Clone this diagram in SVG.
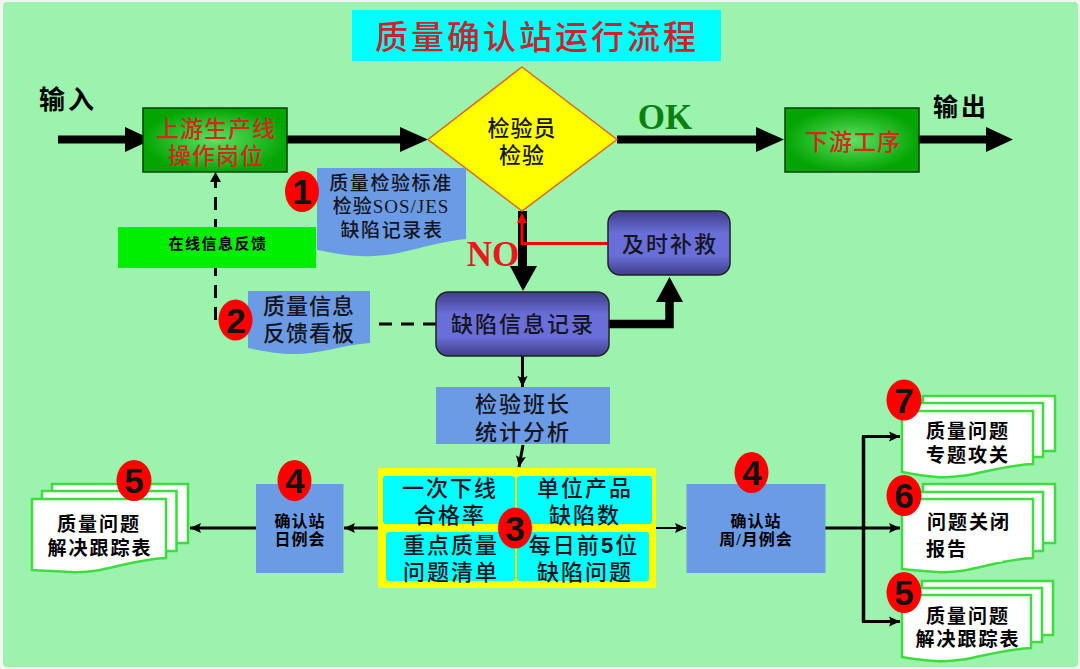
<svg xmlns="http://www.w3.org/2000/svg" width="1080" height="669" viewBox="0 0 1080 669">
<style>
text{font-family:"Liberation Serif","Noto Sans CJK SC",serif;text-anchor:middle;fill:#15151f;font-weight:500}
.m{font-size:22px;letter-spacing:2px}
.d{font-size:19px;letter-spacing:2px;font-weight:700;fill:#000}
.i{font-size:16px;letter-spacing:1px;font-weight:700;fill:#000}
.r{fill:#cf2a1c;font-size:23px;letter-spacing:1px}
.bl{fill:#6b9be4}
.cy{fill:#00ffff}
.doc{fill:#fff;stroke:#3fdc3f;stroke-width:2.5}
.mark{fill:#ff0000}
.num{font-family:"Liberation Sans",sans-serif;font-weight:700;font-size:35px;fill:#111}
.ln{fill:none;stroke:#000}
.thick{fill:none;stroke:#000;stroke-width:8}
.dash{fill:none;stroke:#000;stroke-width:3;stroke-dasharray:13 9}
.latin{font-family:"Liberation Serif",serif;font-weight:700}
</style>
<defs>
<radialGradient id="g"><stop offset="0" stop-color="#62e062"/><stop offset="1" stop-color="#03a503"/></radialGradient>
<linearGradient id="p" x1="0" y1="0" x2="0" y2="1"><stop offset="0" stop-color="#3e3e88"/><stop offset=".35" stop-color="#6a6ed8"/><stop offset=".7" stop-color="#6a6ed8"/><stop offset="1" stop-color="#3e3e88"/></linearGradient>
<marker id="a" markerUnits="userSpaceOnUse" markerWidth="14" markerHeight="14" refX="11" refY="6" orient="auto"><path d="M0 1L11 6L0 11L2 6Z" fill="#000"/></marker>
</defs>
<rect x="0" y="0" width="1080" height="669" fill="#f4f6f4"/>
<rect x="3" y="2" width="1075" height="665" rx="4" fill="#9bf3ad"/>
<g id="title"><rect x="352" y="10" width="369" height="51" class="cy"/><text x="537" y="49" font-size="33" letter-spacing="3" style="fill:#c9242c">质量确认站运行流程</text></g>
<g id="connectors">
<path d="M58 139.500H130" class="thick"/><path d="M125 127L152 139.500L125 152Z"/>
<path d="M287 139.500H405" class="thick"/><path d="M400 127L428 139.500L400 152Z"/>
<path d="M617 139.500H760" class="thick"/><path d="M756 127L784 139.500L756 152Z"/>
<path d="M919 139.500H990" class="thick"/><path d="M986 127L1013 139.500L986 152Z"/>
<path d="M522.500 211V270" class="ln" stroke-width="9"/><path d="M510 266H537L523 291Z"/>
<path d="M609 324H669.500V298" class="ln" stroke-width="8.500"/><path d="M656 302L669.500 277L683 302Z"/>
<path d="M608 243.500H522V218" fill="none" stroke="#ff0000" stroke-width="3"/><path d="M517 223L522 213L527 223Z" fill="#ff0000"/>
<path d="M436 324H372" class="dash"/>
<path d="M215.500 320V180" class="dash"/><path d="M210 182L215.500 172L221 182Z"/>
<path d="M522.500 356V387" class="ln" stroke-width="3" marker-end="url(#a)"/>
<path d="M523 445L519 467" class="ln" stroke-width="3" marker-end="url(#a)"/>
<path d="M379 528H344" class="ln" stroke-width="3" marker-end="url(#a)"/>
<path d="M256 528H190" class="ln" stroke-width="3" marker-end="url(#a)"/>
<path d="M656 528H686" class="ln" stroke-width="2" marker-end="url(#a)"/>
<path d="M825 528H900" class="ln" stroke-width="3" marker-end="url(#a)"/>
<path d="M863.500 436.500V621.500" class="ln" stroke-width="3.500"/>
<path d="M862 436.500H900" class="ln" stroke-width="3" marker-end="url(#a)"/>
<path d="M862 621.500H900" class="ln" stroke-width="3" marker-end="url(#a)"/>
</g>
<g id="upstream"><rect x="143" y="108" width="144" height="64" fill="url(#g)" stroke="#0b3d0b" stroke-width="1.500"/><text x="216" y="137" class="r">上游生产线</text><text x="216" y="164" class="r">操作岗位</text></g>
<g id="inspect"><path d="M522 67L617 139.500L522 211L428 139.500Z" fill="#ffff00" stroke="#e0661a" stroke-width="1.500"/><text x="522" y="136" font-size="22" letter-spacing="1">检验员</text><text x="522" y="163" font-size="22" letter-spacing="1">检验</text></g>
<g id="downstream"><rect x="785" y="108" width="134" height="64" fill="url(#g)" stroke="#0b3d0b" stroke-width="1.500"/><text x="853" y="150" class="r">下游工序</text></g>
<g id="labels"><text x="68" y="109" font-size="26" letter-spacing="3" style="font-weight:700;fill:#000">输入</text><text x="961" y="116" font-size="25" letter-spacing="3" style="font-weight:700;fill:#000">输出</text><text x="665" y="129" font-size="35" class="latin" style="fill:#0a7f12">OK</text></g>
<g id="doc1"><path d="M317 168H466V239C425 243 400 258 360 256C340 255 330 252 317 250Z" class="bl"/><text x="391" y="190" font-size="19" letter-spacing="1.600">质量检验标准</text><text x="391" y="213" font-size="19" letter-spacing="1">检验SOS/JES</text><text x="392" y="237" font-size="19" letter-spacing="1.600">缺陷记录表</text></g>
<g id="feedback"><rect x="118" y="227" width="198" height="41" fill="#00ee00"/><text x="218" y="249" font-size="15" letter-spacing="1.500" style="font-weight:700;fill:#000">在线信息反馈</text></g>
<g id="doc2"><path d="M248 291H370V343C340 345 320 355 290 354C270 353 258 350 248 348Z" class="bl"/><text x="309" y="314" class="m" style="letter-spacing:1px">质量信息</text><text x="309" y="341" class="m" style="letter-spacing:1px">反馈看板</text></g>
<g id="record"><rect x="436" y="292" width="173" height="64" rx="12" fill="url(#p)" stroke="#222" stroke-width="1.500"/><text x="523" y="332" class="m">缺陷信息记录</text></g>
<g id="remedy"><rect x="608" y="211" width="122" height="64" rx="12" fill="url(#p)" stroke="#222" stroke-width="1.500"/><text x="670" y="252" class="m">及时补救</text></g>
<g id="stats"><rect x="436" y="387" width="174" height="57" class="bl"/><text x="523" y="412" class="m">检验班长</text><text x="523" y="440" class="m">统计分析</text></g>
<g id="grid"><rect x="378" y="468" width="278" height="120" fill="#ffff00"/><rect x="383" y="476" width="132" height="48" rx="3" class="cy"/><rect x="517" y="476" width="135" height="48" rx="3" class="cy"/><rect x="386" y="532" width="129" height="49" rx="3" class="cy"/><rect x="517" y="532" width="132" height="49" rx="3" class="cy"/>
<text x="450" y="496" class="m">一次下线</text><text x="450" y="523" class="m">合格率</text><text x="585" y="496" class="m">单位产品</text><text x="585" y="523" class="m">缺陷数</text><text x="451" y="553" class="m">重点质量</text><text x="451" y="580" class="m">问题清单</text><text x="584" y="553" class="m">每日前<tspan font-family="Liberation Sans" font-weight="700">5</tspan>位</text><text x="585" y="580" class="m">缺陷问题</text></g>
<g id="daily"><rect x="256" y="484" width="87.500" height="89" class="bl"/><text x="300" y="527" class="i">确认站</text><text x="300" y="545" class="i">日例会</text></g>
<g id="weekly"><rect x="686.500" y="484" width="139" height="89" class="bl"/><text x="756" y="527" class="i">确认站</text><text x="756" y="545" class="i">周/月例会</text></g>
<g id="doc-left"><rect x="52" y="484" width="136" height="59" class="doc"/><rect x="42" y="491" width="134.500" height="60" class="doc"/><path d="M32 499H166V558C125 560 105 574 70 572C55 571 42 571 32 570Z" class="doc"/><text x="99" y="531" class="d">质量问题</text><text x="100" y="555" class="d">解决跟踪表</text></g>
<g id="doc7"><rect x="923" y="396" width="132" height="55" class="doc"/><rect x="912" y="403" width="131" height="54" class="doc"/><path d="M902 411H1033V464C992 466 972 479 937 477C922 476 912 474 902 472Z" class="doc"/><text x="968" y="438" class="d">质量问题</text><text x="968" y="462" class="d">专题攻关</text></g>
<g id="doc6"><rect x="923" y="484" width="132" height="59" class="doc"/><rect x="912" y="492" width="131" height="59" class="doc"/><path d="M902 499H1033V558C992 560 972 574 937 572C922 571 912 570 902 569Z" class="doc"/><rect x="985" y="555" width="17" height="7" fill="#fff"/><text x="969" y="529" class="d">问题关闭</text><text x="947" y="556" class="d">报告</text></g>
<g id="doc5"><rect x="922" y="581" width="131" height="54" class="doc"/><rect x="911" y="588" width="131" height="54" class="doc"/><path d="M902 595H1031V648C990 650 970 663 935 661C920 660 912 659 902 657Z" class="doc"/><text x="968" y="623" class="d">质量问题</text><text x="968" y="646" class="d">解决跟踪表</text></g>
<g id="no-label"><text x="493" y="266" font-size="35" class="latin" style="fill:#e8191e">NO</text></g>
<g id="badges">
<ellipse cx="302" cy="191.500" rx="17" ry="20.500" class="mark"/><text x="302" y="204" class="num">1</text>
<ellipse cx="235.500" cy="320" rx="17" ry="20.500" class="mark"/><text x="236" y="333" class="num">2</text>
<ellipse cx="515" cy="528" rx="17" ry="20.500" class="mark"/><text x="515" y="541" class="num">3</text>
<ellipse cx="294.500" cy="480.500" rx="17" ry="20.500" class="mark"/><text x="295" y="493" class="num">4</text>
<ellipse cx="751.500" cy="472.500" rx="17" ry="20.500" class="mark"/><text x="752" y="485" class="num">4</text>
<ellipse cx="134" cy="480.500" rx="17.500" ry="20.500" class="mark"/><text x="134" y="493" class="num">5</text>
<ellipse cx="904" cy="400" rx="17.500" ry="20.500" class="mark"/><text x="904" y="413" class="num">7</text>
<ellipse cx="904" cy="495.500" rx="17.500" ry="20.500" class="mark"/><text x="904" y="508" class="num">6</text>
<ellipse cx="904" cy="592.500" rx="17.500" ry="20.500" class="mark"/><text x="904" y="605" class="num">5</text>
</g>
</svg>
